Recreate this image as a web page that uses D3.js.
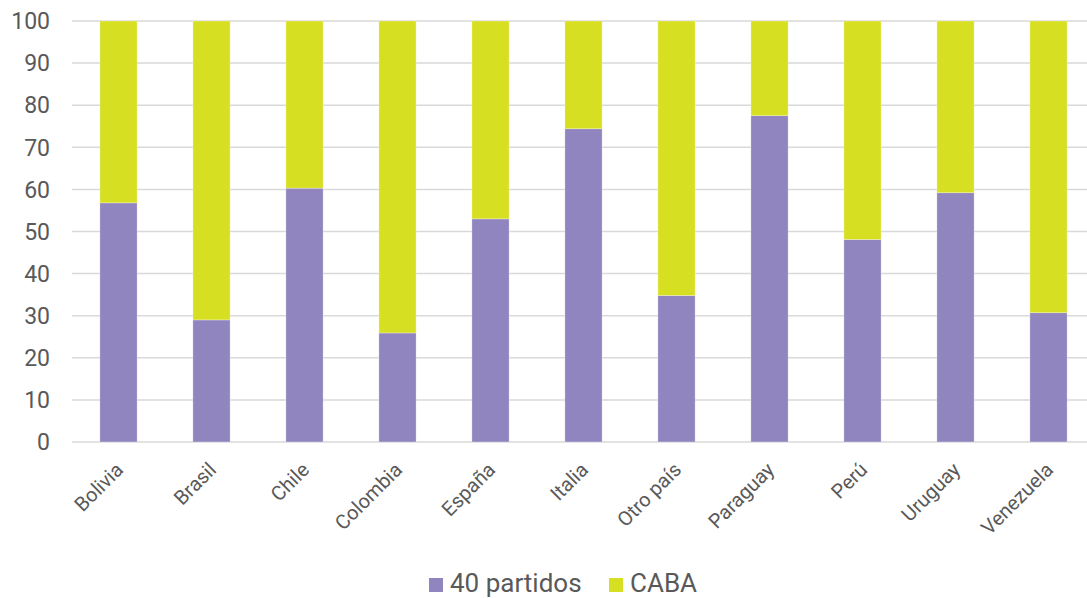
<!DOCTYPE html>
<html>
<head>
<meta charset="utf-8">
<script src="https://cdn.jsdelivr.net/npm/d3@7"></script>
<style>
  body { margin: 0; background: #fff; }
  text { font-family: Roboto, "Noto Sans", sans-serif; fill: #595959; }
</style>
</head>
<body>
<svg id="chart"></svg>
<script>
const countries = ["Bolivia", "Brasil", "Chile", "Colombia", "España", "Italia",
  "Otro país", "Paraguay", "Perú", "Uruguay", "Venezuela"];
const partidos = [56.8, 29.0, 60.3, 25.9, 53.0, 74.4, 34.8, 77.5, 48.1, 59.2, 30.7];
const caba = partidos.map((v) => 100 - v);
const yTicks = [0, 10, 20, 30, 40, 50, 60, 70, 80, 90, 100];
const seriesNames = ["40 partidos", "CABA"];
const colors = ["#9185bf", "#d7df23"];

const width = 1087;
const height = 598;
const margin = { top: 21, right: -8, bottom: 156, left: 72 };

const svg = d3.select("#chart").attr("width", width).attr("height", height);

const x = d3
  .scaleBand()
  .domain(countries)
  .range([margin.left, width - margin.right])
  .paddingInner(0.6)
  .paddingOuter(0.3);

const y = d3
  .scaleLinear()
  .domain([0, 100])
  .range([height - margin.bottom, margin.top]);

// grid lines
svg
  .append("g")
  .selectAll("line")
  .data(yTicks)
  .join("line")
  .attr("x1", margin.left)
  .attr("x2", width)
  .attr("y1", (d) => y(d))
  .attr("y2", (d) => y(d))
  .attr("stroke", "#d9d9d9")
  .attr("stroke-width", 1.5);

// y labels
svg
  .append("g")
  .selectAll("text")
  .data(yTicks)
  .join("text")
  .attr("x", 50)
  .attr("y", (d) => y(d))
  .attr("dy", "0.36em")
  .attr("text-anchor", "end")
  .style("font-size", "23px")
  .text((d) => d);

// stacked bars
const rows = countries.map((c, i) => ({ country: c, "40 partidos": partidos[i], CABA: caba[i] }));
const stack = d3.stack().keys(seriesNames)(rows);

svg
  .append("g")
  .selectAll("g")
  .data(stack)
  .join("g")
  .attr("fill", (d, i) => colors[i])
  .selectAll("rect")
  .data((d) => d)
  .join("rect")
  .attr("x", (d) => x(d.data.country))
  .attr("width", x.bandwidth())
  .attr("y", (d) => y(d[1]))
  .attr("height", (d) => y(d[0]) - y(d[1]))
  .attr("stroke", "#ffffff")
  .attr("stroke-opacity", 0.5)
  .attr("stroke-width", 0.6);

// x labels
svg
  .append("g")
  .selectAll("text")
  .data(countries)
  .join("text")
  .attr("text-anchor", "end")
  .attr("transform", (d) => `translate(${x(d) + x.bandwidth() / 2 + 6},${height - margin.bottom + 29}) rotate(-45)`)
  .style("font-size", "20px")
  .text((d) => d);

// legend
const legend = svg.append("g").attr("transform", "translate(429,592)");
const items = [
  { name: seriesNames[0], color: colors[0], x: 0 },
  { name: seriesNames[1], color: colors[1], x: 180 },
];
const li = legend.selectAll("g").data(items).join("g").attr("transform", (d) => `translate(${d.x},0)`);
li.append("rect").attr("x", 0).attr("y", -14).attr("width", 14).attr("height", 14).attr("fill", (d) => d.color);
li.append("text")
  .attr("x", 21)
  .attr("y", 0)
  .style("font-size", "26px")
  .text((d) => d.name);
</script>
</body>
</html>
